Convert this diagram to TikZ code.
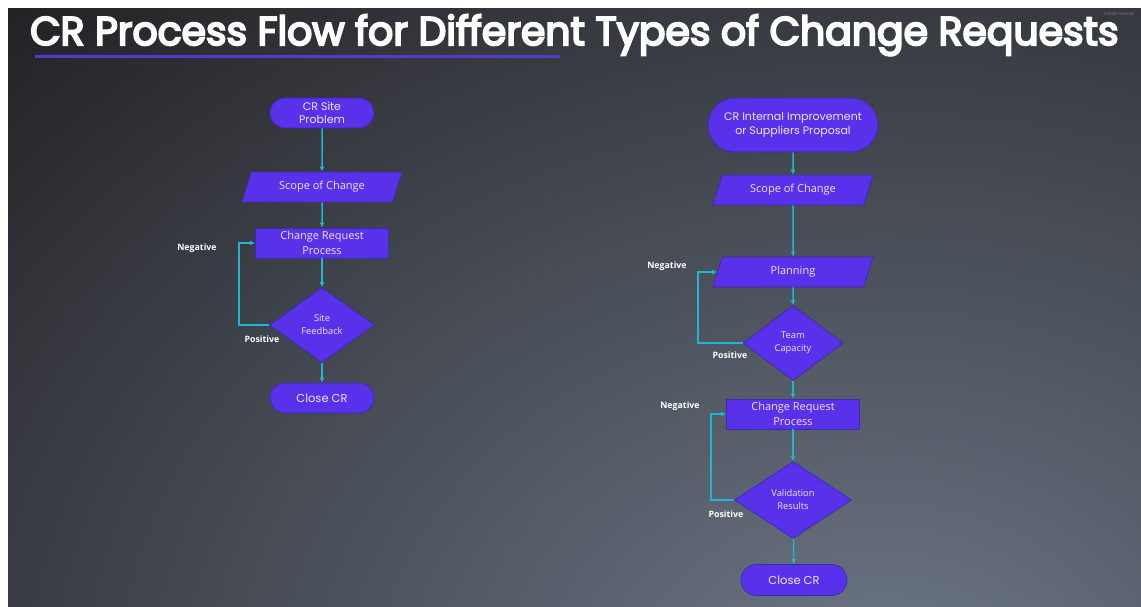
\documentclass[tikz,border=0pt]{standalone}
\usepackage{fontspec}
\setmainfont{Open Sans}
\newfontfamily\headfont{Poppins}
\newfontfamily\titlefont{Poppins}[UprightFeatures={FakeBold=5}]
\usetikzlibrary{shapes.geometric,shapes.misc,arrows.meta}

\definecolor{bgdark}{HTML}{1F1F21}
\definecolor{bglight}{HTML}{6E7888}
\definecolor{boxfill}{HTML}{5A31EA}
\definecolor{boxline}{HTML}{3B2DB0}
\definecolor{boxtext}{HTML}{ECE6FF}
\definecolor{flowcyan}{HTML}{1FB5D3}
\definecolor{accent}{HTML}{5736D4}

\tikzset{
  base/.style={fill=boxfill, draw=boxline, line width=0.8pt, text=boxtext,
    align=center, inner sep=0pt},
  terminal/.style={base, rounded rectangle,
    font=\headfont\fontsize{11}{13.5}\selectfont},
  ioshape/.style={base, trapezium, trapezium left angle=50,
    trapezium right angle=130, trapezium stretches body,
    minimum width=160pt, minimum height=30pt,
    font=\fontsize{11}{14}\selectfont},
  processbox/.style={base, rectangle, minimum width=133pt, minimum height=30pt,
    font=\fontsize{11}{15}\selectfont},
  decision/.style={base, diamond, font=\fontsize{9.3}{13}\selectfont},
  flow/.style={draw=flowcyan, line width=1.5pt,
    -{Latex[length=5pt,width=5pt]}},
  branchlabel/.style={text=white, inner sep=0pt,
    font=\bfseries\fontsize{8.8}{10}\selectfont},
}

\begin{document}
\begin{tikzpicture}[x=1pt, y=-1pt]
  \useasboundingbox (0,0) rectangle (1141,606);

  % page background: white margin, dark slide with a soft light patch
  \fill[white] (0,0) rectangle (1141,606);
  \begin{scope}
    \clip (8,8) rectangle (1141,606);
    \fill[bgdark] (8,8) rectangle (1141,606);
    \shade[inner color=bglight, outer color=bgdark]
      (880,700) ellipse [x radius=1300pt, y radius=1000pt];
    \node[anchor=west, text=gray, inner sep=0pt,
      font=\fontsize{4.5}{5}\selectfont] (tag) at (1104,14) {KONE Internal};
  \end{scope}

  % heading
  \node[anchor=base west, inner sep=0pt, text=white] (title) at (30,45)
    {\resizebox{1088pt}{30.5pt}{\titlefont CR Process Flow for Different Types of Change Requests}};
  \coordinate (ulA) at (35,56.5);
  \coordinate (ulB) at (560,56.5);
  \draw[accent, line width=3.5pt] (ulA) -- (ulB);

  % ---- left flow: site problem ----
  \node[terminal, minimum width=104pt, minimum height=30pt] (sp) at (322,113)
    {CR Site\\Problem};
  \node[ioshape] (scL) at (322,187) {Scope of Change};
  \node[processbox] (crL) at (322,243) {Change Request\\Process};
  \node[decision, minimum width=105pt, minimum height=75pt] (fb) at (322,325)
    {Site\\Feedback};
  \node[terminal, minimum width=104pt, minimum height=30pt,
    font=\headfont\fontsize{11.5}{14}\selectfont] (clL) at (322,398) {Close CR};

  \draw[flow] (sp) -- (scL);
  \draw[flow] (scL) -- (crL);
  \draw[flow] (crL) -- (fb);
  \draw[flow] (fb) -- (clL);
  \draw[flow] (fb.west) -- ++(-30,0) |- (crL.west);
  \node[branchlabel] (negL) at (197,248) {Negative};
  \node[branchlabel] (posL) at (262,339) {Positive};

  % ---- right flow: internal improvement / supplier proposal ----
  \node[terminal, minimum width=170pt, minimum height=54pt] (ip) at (793,125)
    {CR Internal Improvement\\or Suppliers Proposal};
  \node[ioshape] (scR) at (793,190) {Scope of Change};
  \node[ioshape] (pl) at (793,272) {Planning};
  \node[decision, minimum width=100pt, minimum height=75pt] (tc) at (793,343)
    {Team\\Capacity};
  \node[processbox] (crR) at (793,414) {Change Request\\Process};
  \node[decision, minimum width=117pt, minimum height=77pt] (vr) at (793,500)
    {Validation\\Results};
  \node[terminal, minimum width=106pt, minimum height=31pt,
    font=\headfont\fontsize{11.5}{14}\selectfont] (clR) at (794,580) {Close CR};

  \draw[flow] (ip) -- (scR);
  \draw[flow] (scR) -- (pl);
  \draw[flow] (pl) -- (tc);
  \draw[flow] (tc) -- (crR);
  \draw[flow] (crR) -- (vr);
  \draw[flow] (vr) -- (clR);
  \draw[flow] (tc.west) -- ++(-44.5,0) |- (pl.west);
  \draw[flow] (vr.west) -- ++(-23,0) |- (crR.west);
  \node[branchlabel] (negR1) at (667,266) {Negative};
  \node[branchlabel] (posR1) at (730,355) {Positive};
  \node[branchlabel] (negR2) at (680,406) {Negative};
  \node[branchlabel] (posR2) at (726,514) {Positive};
\end{tikzpicture}
\end{document}
